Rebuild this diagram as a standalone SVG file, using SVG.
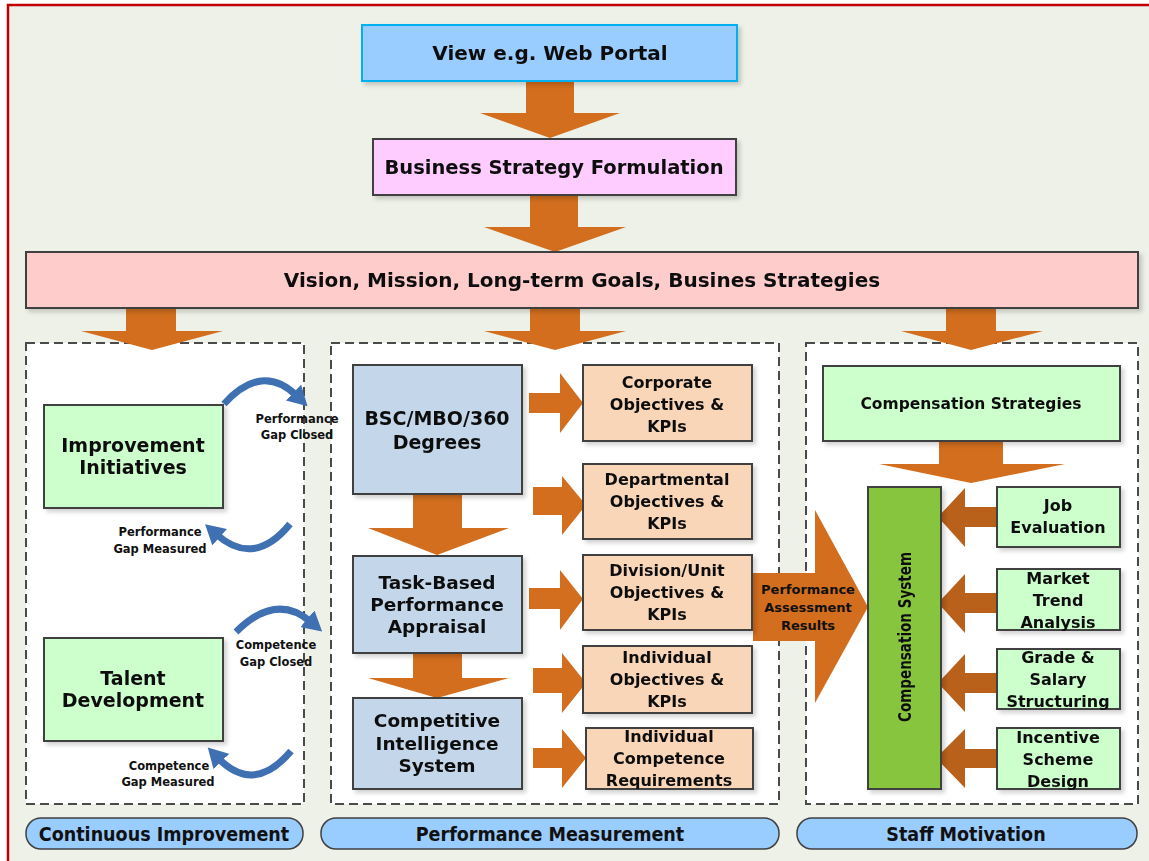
<svg xmlns="http://www.w3.org/2000/svg" width="1149" height="861" viewBox="0 0 1149 861">
<defs>
<style>
.t{font-family:"DejaVu Sans","Liberation Sans",sans-serif;font-weight:bold;fill:#111;text-anchor:middle}
.box{stroke:#404040;stroke-width:2}
.arr{fill:#D26E1E}
.arrd{fill:#B9611A}
.panel{fill:#fff;stroke:#4a4a4a;stroke-width:2;stroke-dasharray:9,5}
.pill{fill:#99CCFF;stroke:#404040;stroke-width:1.5}
.pt{font-family:"DejaVu Sans Condensed","DejaVu Sans",sans-serif;font-stretch:condensed;font-weight:bold;fill:#111;text-anchor:middle;font-size:19.5px}
.sm{font-family:"DejaVu Sans","Liberation Sans",sans-serif;font-weight:bold;fill:#111;text-anchor:middle;font-size:11.5px}
.curve{fill:none;stroke:#3F70B2;stroke-width:7;stroke-linecap:butt}
</style>
<marker id="bh" markerUnits="userSpaceOnUse" markerWidth="22" markerHeight="22" refX="4" refY="9" orient="auto" viewBox="0 0 18 18">
<path d="M0,0 L16,9 L0,18 Z" fill="#3F70B2"/>
</marker>
<filter id="sh" x="-10%" y="-10%" width="130%" height="130%">
<feDropShadow dx="3" dy="3" stdDeviation="2" flood-color="#000" flood-opacity="0.18"/>
</filter>
</defs>
<rect x="0" y="0" width="1149" height="861" fill="#fff"/>
<rect x="8" y="5" width="1150" height="870" fill="#EEF1E7" stroke="#C00000" stroke-width="2.5"/>

<!-- panels -->
<g id="panel-left"><rect class="panel" x="26" y="343" width="278" height="461"/></g>
<g id="panel-middle"><rect class="panel" x="331" y="343" width="448" height="461"/></g>
<g id="panel-right"><rect class="panel" x="806" y="343" width="332" height="461"/></g>

<!-- connectors -->
<g id="connectors">
<polygon class="arr" points="526,81 574,81 574,113 620,113 550,138 480,113 526,113"/>
<polygon class="arr" points="530,195 578,195 578,227 626,227 555,252 484,227 530,227"/>
<polygon class="arr" points="126,308 176,308 176,331 223,331 152,350 81,331 126,331"/>
<polygon class="arr" points="530,308 580,308 580,331 626,331 555,350 484,331 530,331"/>
<polygon class="arr" points="946,308 996,308 996,331 1043,331 971,350 901,331 946,331"/>
<polygon class="arr" points="413,494 462,494 462,528 509,528 437,555 368,528 413,528"/>
<polygon class="arr" points="413,653 462,653 462,678 509,678 437,698 368,678 413,678"/>
<polygon class="arr" points="529,393 560,393 560,373 583,403 560,433 560,413 529,413"/>
<polygon class="arr" points="533,487 562,487 562,476 586,505 562,535 562,515 533,515"/>
<polygon class="arr" points="529,588 560,588 560,570 583,599 560,630 560,609 529,609"/>
<polygon class="arr" points="533,668 562,668 562,653 586,683 562,713 562,693 533,693"/>
<polygon class="arr" points="533,748 562,748 562,729 586,758 562,788 562,768 533,768"/>
<polygon class="arr" points="753,573 815,573 815,510 868,607 815,703 815,641 753,641"/>
<polygon class="arr" points="939,441 1003,441 1003,464 1065,464 971,483 879,464 939,464"/>
<polygon class="arrd" points="998,507 965,507 965,488 938,517 965,547 965,527 998,527"/>
<polygon class="arrd" points="998,593 965,593 965,574 938,603 965,633 965,613 998,613"/>
<polygon class="arrd" points="998,673 965,673 965,654 938,683 965,712 965,693 998,693"/>
<polygon class="arrd" points="998,749 965,749 965,729 936,758 965,788 965,768 998,768"/>
<path class="curve" d="M224,404 Q262,362 297,396" marker-end="url(#bh)"/>
<path class="curve" d="M290,524 Q254,568 216,534" marker-end="url(#bh)"/>
<path class="curve" d="M236,632 Q276,592 311,622" marker-end="url(#bh)"/>
<path class="curve" d="M291,751 Q254,795 218,758" marker-end="url(#bh)"/>
<text class="t" x="808" y="594" font-size="13">Performance</text>
<text class="t" x="808" y="612" font-size="13">Assessment</text>
<text class="t" x="808" y="630" font-size="13">Results</text>
<text class="sm" x="297" y="423">Performance</text>
<text class="sm" x="297" y="439">Gap Closed</text>
<text class="sm" x="160" y="536">Performance</text>
<text class="sm" x="160" y="553">Gap Measured</text>
<text class="sm" x="276" y="649">Competence</text>
<text class="sm" x="276" y="666">Gap Closed</text>
<text class="sm" x="169" y="770">Competence</text>
<text class="sm" x="168" y="786">Gap Measured</text>
</g>

<!-- top nodes -->
<g id="view" filter="url(#sh)"><rect x="362" y="25" width="375" height="56" fill="#99CCFF" stroke="#00B0F0" stroke-width="2"/><text class="t" x="550" y="60" font-size="20">View e.g. Web Portal</text></g>
<g id="bsf" filter="url(#sh)"><rect class="box" x="373" y="139" width="363" height="56" fill="#FFCCFF"/><text class="t" x="554" y="174" font-size="19.5">Business Strategy Formulation</text></g>
<g id="vision" filter="url(#sh)"><rect class="box" x="26" y="252" width="1112" height="56" fill="#FFCCCC"/><text class="t" x="582" y="287" font-size="20">Vision, Mission, Long-term Goals, Busines Strategies</text></g>

<!-- left nodes -->
<g id="improvement" filter="url(#sh)"><rect class="box" x="44" y="405" width="179" height="103" fill="#CCFFCC"/><text class="t" x="133" y="452" font-size="19">Improvement</text><text class="t" x="133" y="474" font-size="19">Initiatives</text></g>
<g id="talent" filter="url(#sh)"><rect class="box" x="44" y="638" width="179" height="103" fill="#CCFFCC"/><text class="t" x="133" y="685" font-size="19">Talent</text><text class="t" x="133" y="707" font-size="19">Development</text></g>

<!-- middle nodes -->
<g id="bsc" filter="url(#sh)"><rect class="box" x="353" y="365" width="169" height="129" fill="#C4D7EA"/><text class="t" x="437" y="425" font-size="19">BSC/MBO/360</text><text class="t" x="437" y="449" font-size="19">Degrees</text></g>
<g id="task" filter="url(#sh)"><rect class="box" x="353" y="556" width="169" height="97" fill="#C4D7EA"/><text class="t" x="437" y="589" font-size="18.5">Task-Based</text><text class="t" x="437" y="611" font-size="18.5">Performance</text><text class="t" x="437" y="633" font-size="18.5">Appraisal</text></g>
<g id="ci" filter="url(#sh)"><rect class="box" x="353" y="698" width="169" height="91" fill="#C4D7EA"/><text class="t" x="437" y="727" font-size="18.5">Competitive</text><text class="t" x="437" y="750" font-size="18.5">Intelligence</text><text class="t" x="437" y="772" font-size="18.5">System</text></g>

<g id="corporate" filter="url(#sh)"><rect class="box" x="583" y="365" width="169" height="76" fill="#F9D6B8"/><text class="t" x="667" y="388" font-size="16">Corporate</text><text class="t" x="667" y="410" font-size="16">Objectives &amp;</text><text class="t" x="667" y="432" font-size="16">KPIs</text></g>
<g id="departmental" filter="url(#sh)"><rect class="box" x="583" y="464" width="169" height="75" fill="#F9D6B8"/><text class="t" x="667" y="485" font-size="16">Departmental</text><text class="t" x="667" y="507" font-size="16">Objectives &amp;</text><text class="t" x="667" y="529" font-size="16">KPIs</text></g>
<g id="division" filter="url(#sh)"><rect class="box" x="583" y="555" width="169" height="75" fill="#F9D6B8"/><text class="t" x="667" y="576" font-size="16">Division/Unit</text><text class="t" x="667" y="598" font-size="16">Objectives &amp;</text><text class="t" x="667" y="620" font-size="16">KPIs</text></g>
<g id="individual" filter="url(#sh)"><rect class="box" x="583" y="646" width="169" height="67" fill="#F9D6B8"/><text class="t" x="667" y="663" font-size="16">Individual</text><text class="t" x="667" y="685" font-size="16">Objectives &amp;</text><text class="t" x="667" y="707" font-size="16">KPIs</text></g>
<g id="competence" filter="url(#sh)"><rect class="box" x="586" y="728" width="167" height="61" fill="#F9D6B8"/><text class="t" x="669" y="742" font-size="16">Individual</text><text class="t" x="669" y="764" font-size="16">Competence</text><text class="t" x="669" y="786" font-size="16">Requirements</text></g>

<!-- right nodes -->
<g id="compstrat" filter="url(#sh)"><rect class="box" x="823" y="366" width="297" height="75" fill="#CCFFCC"/><text class="t" x="971" y="409" font-size="15.5">Compensation Strategies</text></g>
<g id="compsys" filter="url(#sh)"><rect class="box" x="868" y="487" width="73" height="302" fill="#86C53C"/><text class="pt" x="0" y="0" style="font-size:18px" textLength="170" lengthAdjust="spacingAndGlyphs" transform="translate(911,637) rotate(-90)">Compensation System</text></g>
<g id="job" filter="url(#sh)"><rect class="box" x="997" y="487" width="123" height="60" fill="#CCFFCC"/><text class="t" x="1058" y="511" font-size="16">Job</text><text class="t" x="1058" y="533" font-size="16">Evaluation</text></g>
<g id="market" filter="url(#sh)"><rect class="box" x="997" y="569" width="123" height="61" fill="#CCFFCC"/><text class="t" x="1058" y="584" font-size="16">Market</text><text class="t" x="1058" y="606" font-size="16">Trend</text><text class="t" x="1058" y="628" font-size="16">Analysis</text></g>
<g id="grade" filter="url(#sh)"><rect class="box" x="997" y="649" width="123" height="60" fill="#CCFFCC"/><text class="t" x="1058" y="663" font-size="16">Grade &amp;</text><text class="t" x="1058" y="685" font-size="16">Salary</text><text class="t" x="1058" y="707" font-size="16">Structuring</text></g>
<g id="incentive" filter="url(#sh)"><rect class="box" x="997" y="728" width="123" height="61" fill="#CCFFCC"/><text class="t" x="1058" y="743" font-size="16">Incentive</text><text class="t" x="1058" y="765" font-size="16">Scheme</text><text class="t" x="1058" y="787" font-size="16">Design</text></g>

<!-- bottom labels -->
<g id="lbl-ci"><rect class="pill" x="26" y="818" width="277" height="31" rx="15"/><text class="pt" x="164" y="841">Continuous Improvement</text></g>
<g id="lbl-pm"><rect class="pill" x="321" y="818" width="458" height="31" rx="15"/><text class="pt" x="550" y="841">Performance Measurement</text></g>
<g id="lbl-sm"><rect class="pill" x="797" y="818" width="340" height="31" rx="15"/><text class="pt" x="966" y="841">Staff Motivation</text></g>
</svg>
